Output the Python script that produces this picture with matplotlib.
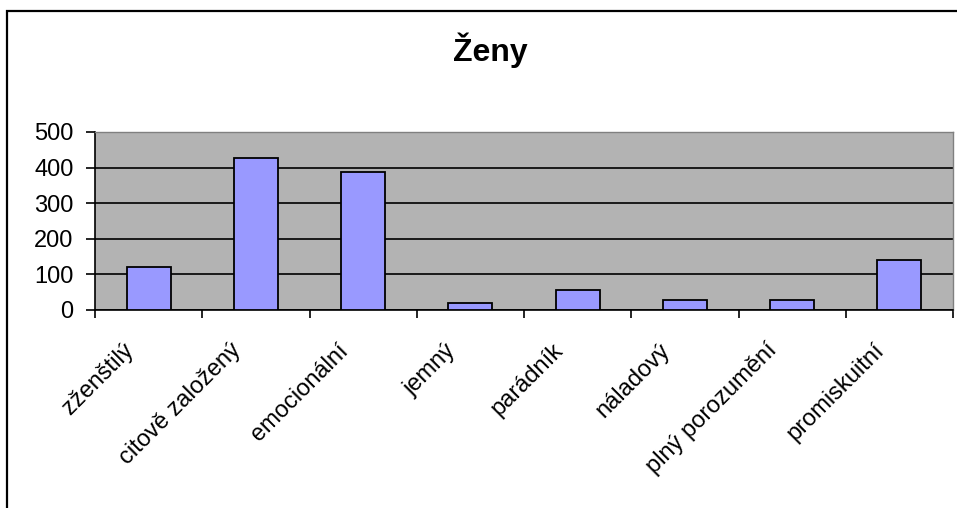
import matplotlib
matplotlib.use("Agg")
import matplotlib.pyplot as plt
from matplotlib.patches import Rectangle
from matplotlib.transforms import ScaledTranslation
import numpy as np

plt.rcParams["font.family"] = ["Liberation Sans", "DejaVu Sans"]

categories = [
    "zženštilý",
    "citově založený",
    "emocionální",
    "jemný",
    "parádník",
    "náladový",
    "plný porozumění",
    "promiskuitní",
]
values = [122, 426, 387, 21, 56, 28, 28, 140]
title = "Ženy"

fig = plt.figure(figsize=(9.57, 5.08), dpi=100)
# outer chart border (cut off on the right and bottom in the original)
fig.patches.append(Rectangle((7 / 957, -0.1), 1.2, 1 - 11 / 508 + 0.1,
                             transform=fig.transFigure, fill=False,
                             edgecolor="black", linewidth=1.6))

ax = fig.add_axes([95 / 957, 1 - 310 / 508, 858 / 957, 178 / 508])
ax.set_facecolor("#b3b3b3")

x = np.arange(len(categories))
ax.bar(x, values, width=0.41, color="#9999ff", edgecolor="black", linewidth=1.3, zorder=3)

ax.set_ylim(0, 500)
ax.set_xlim(-0.5, len(categories) - 0.5)
ax.set_yticks(np.arange(0, 501, 100))
ax.yaxis.grid(True, color="black", linewidth=1.2, zorder=1)
ax.set_axisbelow(True)

ax.set_xticks(np.arange(-0.5, len(categories)), labels=[])
ax.set_xticks(x, minor=True)
ax.set_xticklabels(categories, minor=True, rotation=45, ha="right",
                   rotation_mode="anchor", fontsize=17)
ax.tick_params(axis="x", which="minor", length=0, pad=14)
ax.tick_params(axis="x", which="major", length=6, width=1.2, direction="out")
ax.tick_params(axis="y", length=6.5, width=1.2, labelsize=17, pad=9)

# nudge the slanted labels so they end left of each bar, as in the original
shift = ScaledTranslation(-0.26, -0.10, fig.dpi_scale_trans)
for lbl in ax.get_xticklabels(minor=True):
    lbl.set_transform(lbl.get_transform() + shift)

for side in ("left", "bottom"):
    ax.spines[side].set_color("black")
    ax.spines[side].set_linewidth(1.2)
for side in ("top", "right"):
    ax.spines[side].set_color("#808080")
    ax.spines[side].set_linewidth(1.0)

fig.text(490 / 957, 1 - 50 / 508, title, ha="center", va="center",
         fontsize=23, fontweight="bold")

fig.savefig("out.png", dpi=100)
